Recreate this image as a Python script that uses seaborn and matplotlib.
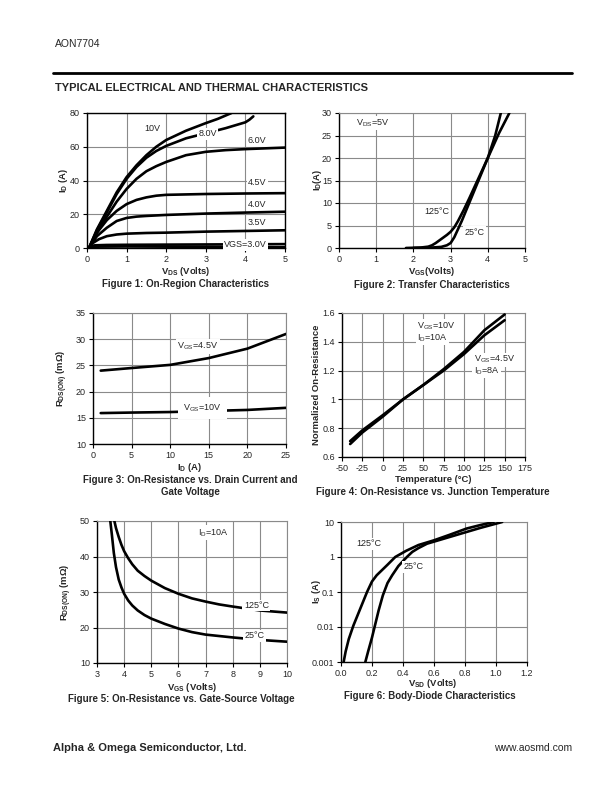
import matplotlib
matplotlib.use("Agg")
import matplotlib.pyplot as plt
import seaborn as sns
import numpy as np
import pandas as pd

sns.set_style("white")
plt.rcParams['font.family'] = ['Liberation Sans', 'DejaVu Sans']
plt.rcParams['mathtext.fontset'] = 'custom'
plt.rcParams['mathtext.rm'] = 'Liberation Sans'
plt.rcParams['mathtext.bf'] = 'Liberation Sans:bold'
plt.rcParams['mathtext.it'] = 'Liberation Sans'
plt.rcParams['axes.unicode_minus'] = False

# ---------------- data ----------------
# Figure 1: On-region characteristics (VDS, ID) per VGS
f1_vgs10_x = [0.05, 0.25, 0.5, 0.75, 1.0, 1.25, 1.5, 1.75, 2.0, 2.5, 3.0, 3.3, 3.65]
f1_vgs10_y = [0, 11, 22, 33, 42, 49, 55, 60, 64, 69.5, 74, 76.5, 80]
f1_vgs8_x = [0.05, 0.25, 0.5, 0.75, 1.0, 1.25, 1.5, 1.75, 2.0, 2.5, 3.0, 3.5, 4.0, 4.1, 4.2]
f1_vgs8_y = [0, 10.5, 21, 32, 41, 48, 53.5, 57.5, 60.5, 65, 68, 71, 74.5, 76, 78]
f1_vgs6_x = [0.05, 0.25, 0.5, 0.75, 1.0, 1.25, 1.5, 1.75, 2.0, 2.5, 3.0, 3.5, 4.0, 5.0]
f1_vgs6_y = [0, 9, 18.5, 27.5, 35, 41, 45.5, 48.5, 51, 55, 57, 58, 58.6, 59.5]
f1_vgs45_x = [0.05, 0.25, 0.5, 0.75, 1.0, 1.25, 1.5, 1.75, 2.0, 3.0, 4.0, 5.0]
f1_vgs45_y = [0, 9, 16.5, 22, 26, 28.5, 30, 31, 31.5, 32, 32.3, 32.5]
f1_vgs4_x = [0.05, 0.25, 0.5, 0.75, 1.0, 1.25, 1.5, 2.0, 3.0, 4.0, 5.0]
f1_vgs4_y = [0, 7, 12, 16, 17.8, 18.6, 19, 19.6, 20.4, 21, 21.5]
f1_vgs35_x = [0.05, 0.15, 0.3, 0.5, 0.75, 1.0, 1.5, 2.0, 3.0, 4.0, 5.0]
f1_vgs35_y = [0, 3, 5.2, 7, 8, 8.5, 8.9, 9.1, 9.7, 10.1, 10.5]
f1_vgs3_x = [0.05, 0.1, 0.2, 0.5, 1.0, 3.0, 5.0]
f1_vgs3_y = [0, 1.0, 1.6, 1.8, 1.9, 2.1, 2.3]
f1_low_x = [0.05, 0.3, 1.0, 3.0, 5.0]
f1_low_y = [0, 0.8, 0.9, 0.7, 0.4]

# Figure 2: Transfer characteristics (VGS, ID)
f2_125_x = [1.8, 2.2, 2.4, 2.5, 2.6, 2.75, 2.9, 3.0, 3.1, 3.2, 3.35, 3.5, 3.75, 4.0, 4.3, 4.58]
f2_125_y = [0, 0.1, 0.3, 0.6, 1.1, 2.0, 2.9, 3.6, 4.6, 6.0, 8.4, 11.0, 15.5, 20.0, 25.5, 30.0]
f2_25_x = [2.0, 2.5, 2.75, 2.9, 3.0, 3.1, 3.2, 3.3, 3.5, 3.75, 4.0, 4.2, 4.35]
f2_25_y = [0, 0.1, 0.25, 0.6, 1.1, 2.4, 4.2, 6.0, 10.0, 15.0, 20.0, 25.0, 30.0]

# Figure 3: RDS(ON) vs ID
f3_id = [1, 5, 10, 15, 20, 25]
f3_vgs45 = [24.0, 24.5, 25.1, 26.4, 28.2, 31.0]
f3_vgs10 = [15.9, 16.0, 16.1, 16.3, 16.5, 16.9]

# Figure 4: Normalized on-resistance vs temperature
f4_t = [-40, -25, 0, 25, 50, 75, 100, 125, 150]
f4_vgs10 = [0.69, 0.77, 0.88, 1.0, 1.10, 1.21, 1.33, 1.48, 1.59]
f4_vgs45 = [0.71, 0.785, 0.89, 1.0, 1.10, 1.20, 1.315, 1.445, 1.55]

# Figure 5: RDS(ON) vs VGS
f5_125_x = [3.64, 3.7, 3.8, 3.9, 4.0, 4.15, 4.3, 4.5, 4.75, 5.0, 5.5, 6.0, 6.5, 7.0, 7.5, 8.0, 9.0, 10.0]
f5_125_y = [50, 48, 45.5, 43.3, 41.5, 39.5, 37.8, 36, 34.5, 33.2, 31.1, 29.5, 28.2, 27.3, 26.5, 25.9, 24.8, 24.2]
f5_25_x = [3.49, 3.55, 3.62, 3.7, 3.8, 3.9, 4.0, 4.15, 4.3, 4.5, 4.75, 5.0, 5.5, 6.0, 6.5, 7.0, 7.5, 8.0, 9.0, 10.0]
f5_25_y = [50, 46, 41, 37, 33.5, 31.3, 29.5, 27.6, 26.2, 24.8, 23.5, 22.5, 21, 19.7, 18.7, 18.0, 17.6, 17.2, 16.5, 16.0]

# Figure 6: Body-diode characteristics (VSD, IS)
f6_125_x = [0.017, 0.03, 0.05, 0.08, 0.12, 0.168, 0.2, 0.23, 0.3, 0.35, 0.42, 0.5, 0.6, 0.7, 0.81, 0.9, 0.985]
f6_125_y = [0.001, 0.002, 0.0045, 0.011, 0.03, 0.1, 0.2, 0.3, 0.6, 1.0, 1.5, 2.2, 3.0, 4.3, 6.5, 8.2, 10]
f6_25_x = [0.157, 0.175, 0.2, 0.243, 0.27, 0.3, 0.33, 0.37, 0.404, 0.43, 0.46, 0.5, 0.555, 0.65, 0.77, 0.9, 1.04]
f6_25_y = [0.001, 0.002, 0.005, 0.03, 0.08, 0.18, 0.3, 0.55, 0.8, 1.05, 1.4, 1.8, 2.4, 3.2, 4.6, 6.8, 10]

# ---------------- layout helpers ----------------
W, H = 612, 792
fig = plt.figure(figsize=(6.12, 7.92), dpi=100)


def add_ax(x0, x1, y0, y1):
    return fig.add_axes([x0 / W, 1 - y1 / H, (x1 - x0) / W, (y1 - y0) / H])


def T(x, y, s, **kw):
    fig.text(x / W, 1 - y / H, s, **kw)


GRID = '#8a8a8a'
LW = 1.9
TICKFS = 6.5
LABFS = 6.8
CAPFS = 7.0


def style(ax, all_black=False):
    ax.grid(True, color=GRID, lw=0.8)
    ax.set_axisbelow(True)
    for s in ['left', 'bottom']:
        ax.spines[s].set_color('black')
        ax.spines[s].set_linewidth(1.0)
    for s in ['top', 'right']:
        ax.spines[s].set_color('black' if all_black else GRID)
        ax.spines[s].set_linewidth(1.0 if all_black else 0.8)
    ax.tick_params(axis='both', labelsize=TICKFS, length=3, width=0.8,
                   color='black', pad=2, direction='out', left=True, bottom=True)


def labels(ax, xl, yl, xpos, ypos):
    ax.set_xlabel(xl, fontsize=LABFS, fontweight='bold', va='center')
    ax.set_ylabel(yl, fontsize=LABFS, fontweight='bold', va='center')
    ax.xaxis.set_label_coords(xpos[0] / W, 1 - xpos[1] / H, transform=fig.transFigure)
    ax.yaxis.set_label_coords(ypos[0] / W, 1 - ypos[1] / H, transform=fig.transFigure)


def line(ax, x, y):
    df = pd.DataFrame({'x': x, 'y': y})
    sns.lineplot(data=df, x='x', y='y', ax=ax, color='black', lw=LW,
                 sort=False, estimator=None, zorder=3)


def lab(ax, x, y, s, ha='center', va='center', fs=6.5):
    ax.text(x, y, s, ha=ha, va=va, fontsize=fs, zorder=5,
            bbox=dict(facecolor='white', edgecolor='none', pad=1.0))


# header / footer
T(55, 44, 'AON7704', fontsize=7.5, va='center', ha='left')
fig.add_artist(plt.Line2D([53 / W, 572 / W], [1 - 73 / H, 1 - 73 / H],
                          color='black', lw=2.0))
T(55, 88, 'TYPICAL ELECTRICAL AND THERMAL CHARACTERISTICS', fontsize=8,
  fontweight='bold', va='center', ha='left')
T(53, 748, 'Alpha & Omega Semiconductor, Ltd.', fontsize=8, fontweight='bold',
  va='center', ha='left')
T(572, 748, 'www.aosmd.com', fontsize=7.5, va='center', ha='right')

# ---------------- Figure 1 ----------------
ax1 = add_ax(87, 285, 113, 248)
style(ax1, all_black=True)
for xs, ys in [(f1_vgs10_x, f1_vgs10_y), (f1_vgs8_x, f1_vgs8_y),
               (f1_vgs6_x, f1_vgs6_y), (f1_vgs45_x, f1_vgs45_y),
               (f1_vgs4_x, f1_vgs4_y), (f1_vgs35_x, f1_vgs35_y),
               (f1_vgs3_x, f1_vgs3_y), (f1_low_x, f1_low_y)]:
    line(ax1, xs, ys)
ax1.set_xlim(0, 5)
ax1.set_ylim(0, 80)
ax1.set_xticks(range(0, 6))
ax1.set_yticks(range(0, 81, 20))
lab(ax1, 1.64, 70.7, '10V')
lab(ax1, 3.04, 67.7, '8.0V')
lab(ax1, 4.3, 63.8, '6.0V')
lab(ax1, 4.3, 39, '4.5V')
lab(ax1, 4.3, 26, '4.0V')
lab(ax1, 4.3, 15.4, '3.5V')
lab(ax1, 4.0, 1.8, 'VGS=3.0V')
labels(ax1, r'V$_{\mathbf{DS}}$ (Volts)', r'I$_{\mathbf{D}}$ (A)', (186, 271), (63, 180))
T(186, 284, 'Figure 1: On-Region Characteristics', fontsize=CAPFS,
  fontweight='bold', ha='center', va='center')

# ---------------- Figure 2 ----------------
ax2 = add_ax(339, 525, 113, 248)
style(ax2)
line(ax2, f2_125_x, f2_125_y)
line(ax2, f2_25_x, f2_25_y)
ax2.set_xlim(0, 5)
ax2.set_ylim(0, 30)
ax2.set_xticks(range(0, 6))
ax2.set_yticks(range(0, 31, 5))
lab(ax2, 0.47, 27.8, r'V$_{DS}$=5V', ha='left')
lab(ax2, 2.62, 8.1, '125°C')
lab(ax2, 3.65, 3.5, '25°C')
labels(ax2, r'V$_{\mathbf{GS}}$(Volts)', r'I$_{\mathbf{D}}$(A)', (432, 272), (317, 180))
T(432, 285, 'Figure 2: Transfer Characteristics', fontsize=CAPFS,
  fontweight='bold', ha='center', va='center')

# ---------------- Figure 3 ----------------
ax3 = add_ax(93, 286, 313, 444)
style(ax3)
line(ax3, f3_id, f3_vgs45)
line(ax3, f3_id, f3_vgs10)
ax3.set_xlim(0, 25)
ax3.set_ylim(10, 35)
ax3.set_xticks(range(0, 26, 5))
ax3.set_yticks(range(10, 36, 5))
lab(ax3, 13.6, 28.6, r'V$_{GS}$=4.5V')
ax3.text(14.2, 16.9, r'V$_{GS}$=10V', ha='center', va='center', fontsize=6.5,
         zorder=5, bbox=dict(facecolor='white', edgecolor='none',
                             boxstyle='square,pad=0.55'))
labels(ax3, r'I$_{\mathbf{D}}$ (A)', r'R$_{\mathbf{DS(ON)}}$ (mΩ)', (190, 468), (62, 378))
T(190, 480, 'Figure 3: On-Resistance vs. Drain Current and', fontsize=CAPFS,
  fontweight='bold', ha='center', va='center')
T(190, 492, 'Gate Voltage', fontsize=CAPFS, fontweight='bold', ha='center', va='center')

# ---------------- Figure 4 ----------------
ax4 = add_ax(342, 525, 313, 457)
style(ax4)
line(ax4, f4_t, f4_vgs10)
line(ax4, f4_t, f4_vgs45)
ax4.set_xlim(-50, 175)
ax4.set_ylim(0.6, 1.6)
ax4.set_xticks(range(-50, 176, 25))
ax4.set_yticks([0.6, 0.8, 1.0, 1.2, 1.4, 1.6])
ax4.set_yticklabels(['0.6', '0.8', '1', '1.2', '1.4', '1.6'])
lab(ax4, 42.5, 1.51, r'V$_{GS}$=10V', ha='left')
lab(ax4, 42.5, 1.43, r'I$_{D}$=10A', ha='left')
lab(ax4, 112, 1.276, r'V$_{GS}$=4.5V', ha='left')
lab(ax4, 112, 1.20, r'I$_{D}$=8A', ha='left')
labels(ax4, 'Temperature (°C)', 'Normalized On-Resistance', (433, 479), (316, 385))
T(433, 492, 'Figure 4: On-Resistance vs. Junction Temperature', fontsize=CAPFS,
  fontweight='bold', ha='center', va='center')

# ---------------- Figure 5 ----------------
ax5 = add_ax(97, 287, 521, 663)
style(ax5)
line(ax5, f5_125_x, f5_125_y)
line(ax5, f5_25_x, f5_25_y)
ax5.set_xlim(3, 10)
ax5.set_ylim(10, 50)
ax5.set_xticks(range(3, 11))
ax5.set_yticks(range(10, 51, 10))
lab(ax5, 7.27, 46.7, r'I$_{D}$=10A')
lab(ax5, 8.87, 26.2, '125°C')
lab(ax5, 8.81, 17.7, '25°C')
labels(ax5, r'V$_{\mathbf{GS}}$ (Volts)', r'R$_{\mathbf{DS(ON)}}$ (mΩ)', (192, 687), (66, 592))
T(181, 699, 'Figure 5: On-Resistance vs. Gate-Source Voltage', fontsize=CAPFS,
  fontweight='bold', ha='center', va='center')

# ---------------- Figure 6 ----------------
ax6 = add_ax(341, 527, 522, 662)
style(ax6)
line(ax6, f6_125_x, f6_125_y)
line(ax6, f6_25_x, f6_25_y)
ax6.set_yscale('log')
ax6.set_xlim(0, 1.2)
ax6.set_ylim(0.001, 10)
ax6.set_xticks([0.0, 0.2, 0.4, 0.6, 0.8, 1.0, 1.2])
ax6.set_xticklabels(['0.0', '0.2', '0.4', '0.6', '0.8', '1.0', '1.2'])
ax6.set_yticks([0.001, 0.01, 0.1, 1, 10])
ax6.set_yticklabels(['0.001', '0.01', '0.1', '1', '10'])
ax6.yaxis.set_minor_locator(matplotlib.ticker.NullLocator())
ax6.grid(True, which='major', color=GRID, lw=0.8)
lab(ax6, 0.178, 2.4, '125°C')
lab(ax6, 0.465, 0.52, '25°C')
labels(ax6, r'V$_{\mathbf{SD}}$ (Volts)', r'I$_{\mathbf{S}}$ (A)', (433, 684), (316, 592))
T(430, 696, 'Figure 6: Body-Diode Characteristics', fontsize=CAPFS,
  fontweight='bold', ha='center', va='center')

for ax in [ax1, ax2, ax3, ax4, ax5, ax6]:
    leg = ax.get_legend()
    if leg:
        leg.remove()

fig.savefig('out.png', dpi=100, facecolor='white')
